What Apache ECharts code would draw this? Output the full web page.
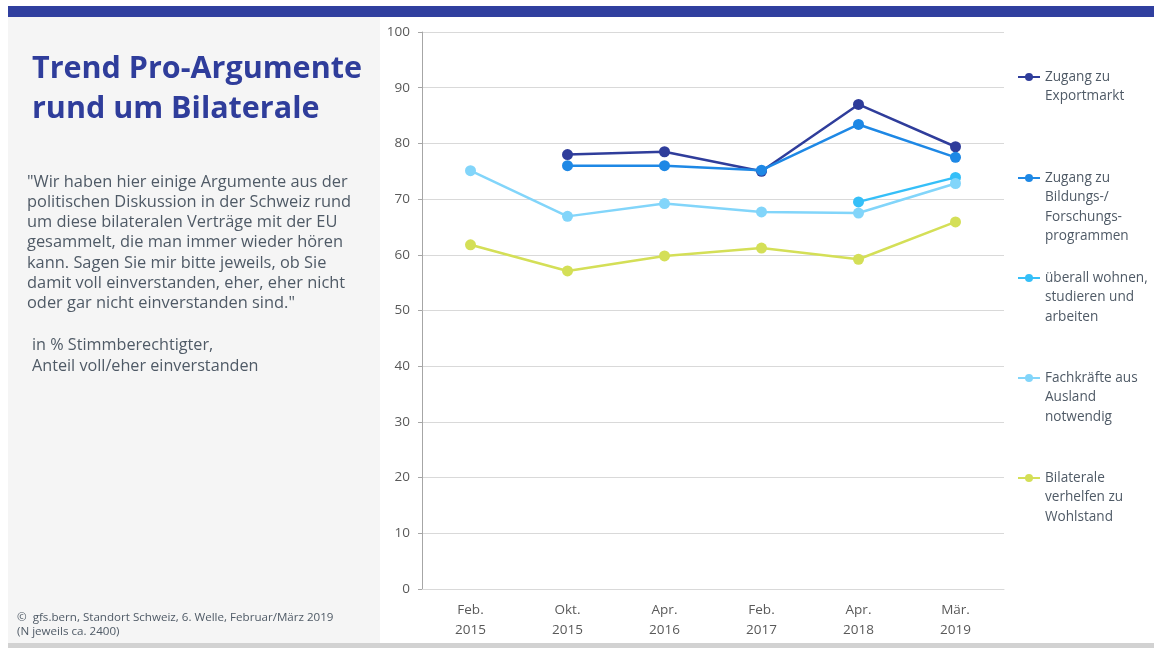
<!DOCTYPE html>
<html><head><meta charset="utf-8">
<script src="https://cdn.jsdelivr.net/npm/echarts@6/dist/echarts.min.js"></script>
<style>html,body{margin:0;padding:0;background:#fff;}#c{width:1154px;height:648px;}</style>
</head><body><div id="c"></div>
<script>
const categories = ['Feb.\n2015','Okt.\n2015','Apr.\n2016','Feb.\n2017','Apr.\n2018','Mär.\n2019'];
const seriesNames = ['Zugang zu\nExportmarkt','Zugang zu\nBildungs-/\nForschungs-\nprogrammen','überall wohnen,\nstudieren und\narbeiten','Fachkräfte aus\nAusland\nnotwendig','Bilaterale\nverhelfen zu\nWohlstand'];
const exportmarkt = [null, 78, 78.5, 75, 87, 79.4];
const bildung = [null, 76, 76, 75.2, 83.4, 77.5];
const wohnen = [null, null, null, null, 69.5, 73.9];
const fachkraefte = [75.1, 66.9, 69.2, 67.7, 67.5, 72.8];
const wohlstand = [61.8, 57.1, 59.8, 61.2, 59.2, 65.9];
const yTicks = {min: 0, max: 100, interval: 10};

const colors = ['#2f3d9b','#1e88e5','#35bff8','#82d5fa','#d4df57'];
const allData = [exportmarkt, bildung, wohnen, fachkraefte, wohlstand];
const FONT = "'Open Sans', 'Noto Sans', sans-serif";
const textCol = '#4f5a66';
const LH = 19.5;
const legendIconY = [77, 178, 278, 378, 478];

const chart = echarts.init(document.getElementById('c'));
const legends = seriesNames.map((n, i) => {
  const lines = n.split('\n').length;
  const H = (2 * lines - 1) * LH;
  const pad = new Array(lines - 1).fill(' \n').join('');
  return {
    data: [n],
    formatter: name => pad + name,
    orient: 'vertical', left: 1017, top: legendIconY[i] - H / 2, padding: 0,
    itemWidth: 22, itemHeight: 10, itemGap: 0,
    textStyle: {fontFamily: FONT, fontSize: 13.6, color: textCol, lineHeight: LH}
  };
});

chart.setOption({
  animation: false,
  color: colors,
  graphic: [
    {type: 'rect', shape: {x: 8, y: 6, width: 1146, height: 11}, style: {fill: '#303f9f'}},
    {type: 'rect', shape: {x: 8, y: 17, width: 372, height: 626}, style: {fill: '#f5f5f5'}},
    {type: 'rect', shape: {x: 8, y: 643, width: 1146, height: 5}, style: {fill: '#d2d2d2'}},
    {type: 'text', left: 32, top: 49, style: {text: 'Trend Pro-Argumente\nrund um Bilaterale', fill: '#2f3d9b', font: "bold 30.5px " + FONT, lineHeight: 40}},
    {type: 'text', left: 27, top: 172, style: {text: '"Wir haben hier einige Argumente aus der\npolitischen Diskussion in der Schweiz rund\num diese bilateralen Verträge mit der EU\ngesammelt, die man immer wieder hören\nkann. Sagen Sie mir bitte jeweils, ob Sie\ndamit voll einverstanden, eher, eher nicht\noder gar nicht einverstanden sind."', fill: textCol, font: "16.4px " + FONT, lineHeight: 20.2}},
    {type: 'text', left: 32, top: 335, style: {text: 'in % Stimmberechtigter,\nAnteil voll/eher einverstanden', fill: textCol, font: "16.2px " + FONT, lineHeight: 21}},
    {type: 'text', left: 17, top: 611, style: {text: '©  gfs.bern, Standort Schweiz, 6. Welle, Februar/März 2019\n(N jeweils ca. 2400)', fill: textCol, font: "11.6px " + FONT, lineHeight: 14}}
  ],
  legend: legends,
  grid: {left: 422, right: 150, top: 32, bottom: 59},
  xAxis: {
    type: 'category', data: categories, boundaryGap: true,
    axisLine: {lineStyle: {color: '#d9d9d9'}}, axisTick: {show: false},
    axisLabel: {fontFamily: FONT, fontSize: 13.5, color: '#595959', lineHeight: 20, margin: 11}
  },
  yAxis: {
    type: 'value', min: yTicks.min, max: yTicks.max, interval: yTicks.interval,
    axisLine: {show: true, lineStyle: {color: '#a6a6a6'}},
    axisTick: {show: true, length: 4, lineStyle: {color: '#a6a6a6'}},
    splitLine: {lineStyle: {color: '#d9d9d9'}},
    axisLabel: {fontFamily: FONT, fontSize: 13.5, color: '#595959', margin: 12}
  },
  series: seriesNames.map((n, i) => ({
    name: n, type: 'line', data: allData[i], connectNulls: false,
    symbol: 'circle', symbolSize: 11, lineStyle: {width: 2.5}, z: 2 + i
  }))
});
</script></body></html>
